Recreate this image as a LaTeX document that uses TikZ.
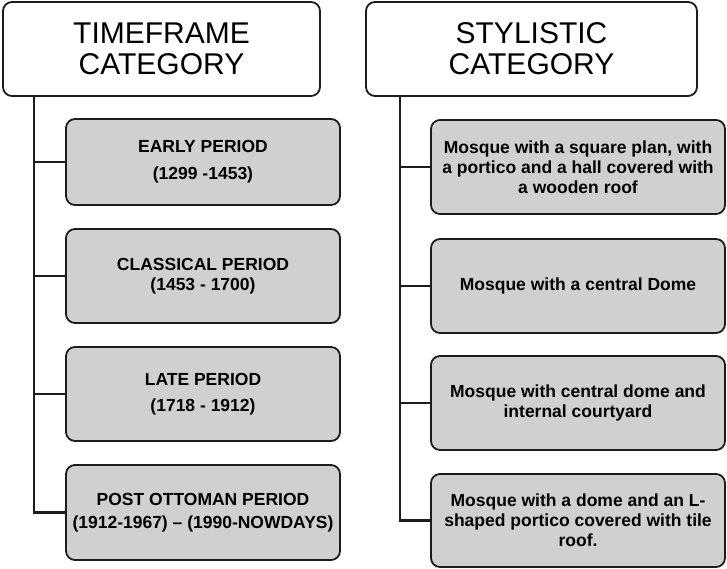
\documentclass[tikz,border=0pt]{standalone}
\usepackage{fontspec}
\setmainfont{Liberation Sans}
\usetikzlibrary{positioning}
\definecolor{BoxGray}{RGB}{208,208,208}
\definecolor{LineDark}{RGB}{28,28,28}

\begin{document}
\begin{tikzpicture}[x=1pt,y=-1pt,
    head/.style={draw=LineDark,line width=1.8pt,rounded corners=9pt,
      fill=white,align=center,inner sep=0pt,
      font=\fontsize{30}{31}\selectfont},
    item/.style={draw=LineDark,line width=1.8pt,rounded corners=9pt,
      fill=BoxGray,align=center,inner sep=0pt,
      font=\bfseries\fontsize{17.5}{20}\selectfont},
    tie/.style={draw=LineDark,line width=2.2pt}]
  \useasboundingbox (0,0) rectangle (727,568);

  % timeframe column
  \node[head,minimum width=317,minimum height=94] (tf) at (161.5,49)
    {TIMEFRAME\\CATEGORY};
  \node[item,minimum width=274,minimum height=86] (p1) at (203,162)
    {EARLY PERIOD\\[7pt](1299 -1453)};
  \node[item,minimum width=274,minimum height=94] (p2) at (203,276)
    {CLASSICAL PERIOD\\(1453 - 1700)};
  \node[item,minimum width=274,minimum height=94] (p3) at (203,394)
    {LATE PERIOD\\[6pt](1718 - 1912)};
  \node[item,minimum width=274,minimum height=95] (p4) at (203,512.5)
    {POST OTTOMAN PERIOD\\[3pt](1912-1967) -- (1990-NOWDAYS)};
  \coordinate (tfroot) at ([xshift=32]tf.south west);
  \foreach \n in {p1,p2,p3,p4}
    \draw[tie] (tfroot) |- (\n.west);

  % stylistic column
  \node[head,minimum width=331,minimum height=94] (sc) at (531.5,49)
    {STYLISTIC\\CATEGORY};
  \node[item,minimum width=294,minimum height=94] (s1) at (578,167)
    {Mosque with a square plan, with\\a portico and a hall covered with\\a wooden roof};
  \node[item,minimum width=294,minimum height=94] (s2) at (578,286)
    {Mosque with a central Dome};
  \node[item,minimum width=294,minimum height=94] (s3) at (578,403)
    {Mosque with central dome and\\internal courtyard};
  \node[item,minimum width=294,minimum height=93] (s4) at (578,520.5)
    {Mosque with a dome and an L-\\shaped portico covered with tile\\roof.};
  \coordinate (scroot) at ([xshift=35]sc.south west);
  \foreach \n in {s1,s2,s3,s4}
    \draw[tie] (scroot) |- (\n.west);
\end{tikzpicture}
\end{document}
